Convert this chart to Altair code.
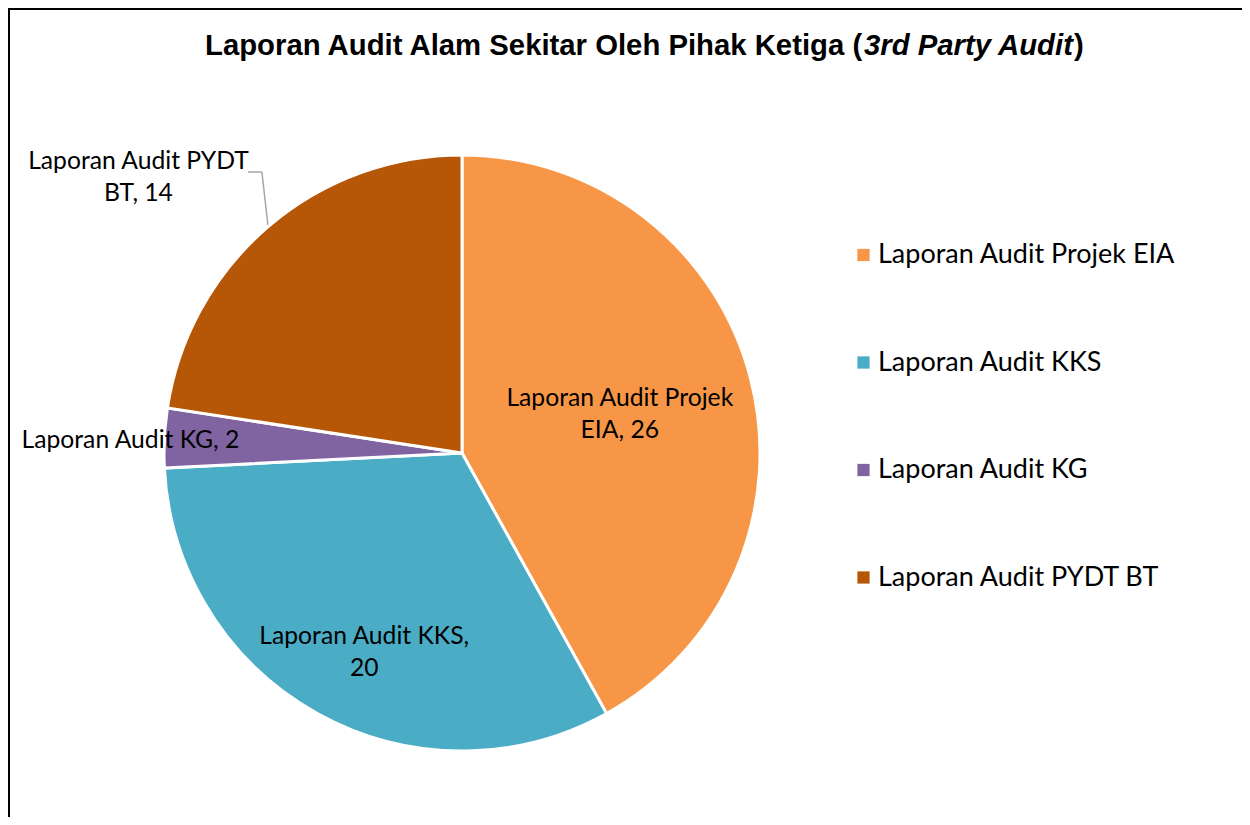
import math
import altair as alt
import pandas as pd

# ---- data ----
categories = ["Laporan Audit Projek EIA", "Laporan Audit KKS", "Laporan Audit KG", "Laporan Audit PYDT BT"]
values = [26, 20, 2, 14]
colors = ["#F79646", "#4BACC6", "#8064A2", "#B65708"]
label_texts = ["Laporan Audit Projek\nEIA, 26", "Laporan Audit KKS,\n20", "Laporan Audit KG, 2", "Laporan Audit PYDT\nBT, 14"]
title_parts = ["Laporan Audit Alam Sekitar Oleh Pihak Ketiga (", "3rd Party Audit", ")"]

total = sum(values)
df = pd.DataFrame({
    "category": categories,
    "value": values,
    "order": list(range(len(categories))),
    "label": label_texts,
})

# ---- layout ----
W, H = 1234, 809
CX, CY, R = 454, 445, 298
LABEL_FONT = "Lato"
theta_scale = alt.Scale(domain=[0, total])

pie = alt.Chart(df).mark_arc(radius=R, stroke="white", strokeWidth=3).encode(
    theta=alt.Theta("value:Q", stack=True, scale=theta_scale),
    color=alt.Color(
        "category:N",
        scale=alt.Scale(domain=categories, range=colors),
        sort=categories,
        legend=alt.Legend(
            title=None, orient="none", legendX=842, legendY=233.5,
            symbolType="square", symbolSize=150, symbolStrokeWidth=0,
            labelFont=LABEL_FONT, labelFontSize=27, labelColor="black",
            labelOffset=1, rowPadding=79.5, padding=0, labelLimit=400,
        ),
    ),
    order=alt.Order("order:Q"),
    x=alt.value(CX), y=alt.value(CY),
)

# label placement per slice: (radius, dx, dy)
label_pos = [(163, 0, -13), (222, 10, -10), (332, 0, 5), (400, -63, 13)]
label_layers = []
for i, (rad, dx, dy) in enumerate(label_pos):
    label_layers.append(
        alt.Chart(df)
        .transform_window(cum="sum(value)", sort=[alt.SortField("order")])
        .transform_calculate(mid="datum.cum - datum.value / 2")
        .transform_filter(f"datum.order == {i}")
        .mark_text(radius=rad, dx=dx, dy=dy, font=LABEL_FONT, fontSize=24.7,
                   lineBreak="\n", lineHeight=31.5, align="center", baseline="middle", color="black")
        .encode(theta=alt.Theta("mid:Q", scale=theta_scale), text="label:N",
                x=alt.value(CX), y=alt.value(CY))
    )

# leader line for the PYDT label, ending at the slice's mid-angle on the rim
mid_pydt = (sum(values[:3]) + values[3] / 2) / total * 2 * math.pi
ex, ey = CX + R * math.sin(mid_pydt), CY - R * math.cos(mid_pydt)
leader_src = alt.Chart(pd.DataFrame({"k": [0]}))
leader1 = leader_src.mark_rule(color="#A6A6A6", strokeWidth=1.5).encode(
    x=alt.value(240), x2=alt.value(ex - 6), y=alt.value(164), y2=alt.value(164))
leader2 = leader_src.mark_rule(color="#A6A6A6", strokeWidth=1.5).encode(
    x=alt.value(ex - 6), x2=alt.value(ex), y=alt.value(164), y2=alt.value(ey - 2))

# title in three parts (bold, bold italic, bold)
TFS = 29.3
title_x = [197, 856, 1066]
title_layers = []
for j, part in enumerate(title_parts):
    title_layers.append(
        alt.Chart(pd.DataFrame({"t": [part]}))
        .mark_text(font="Liberation Sans", fontSize=TFS, fontWeight="bold",
                   fontStyle="italic" if j == 1 else "normal",
                   align="left", baseline="alphabetic", color="black")
        .encode(text="t:N", x=alt.value(title_x[j]), y=alt.value(46.5))
    )

# frame (left and top edges visible)
frame_src = alt.Chart(pd.DataFrame({"k": [0]}))
frame_left = frame_src.mark_rule(color="black", strokeWidth=2).encode(
    x=alt.value(1), y=alt.value(0), y2=alt.value(H))
frame_top = frame_src.mark_rule(color="black", strokeWidth=2).encode(
    x=alt.value(0), x2=alt.value(W), y=alt.value(1))

chart = alt.layer(pie, *label_layers, leader1, leader2, *title_layers, frame_left, frame_top).properties(
    width=W, height=H, padding=0, autosize=alt.AutoSizeParams(type="none"), background="white"
).configure_view(stroke=None)

chart.save("out.html", embed_options={"renderer": "svg", "actions": False})
